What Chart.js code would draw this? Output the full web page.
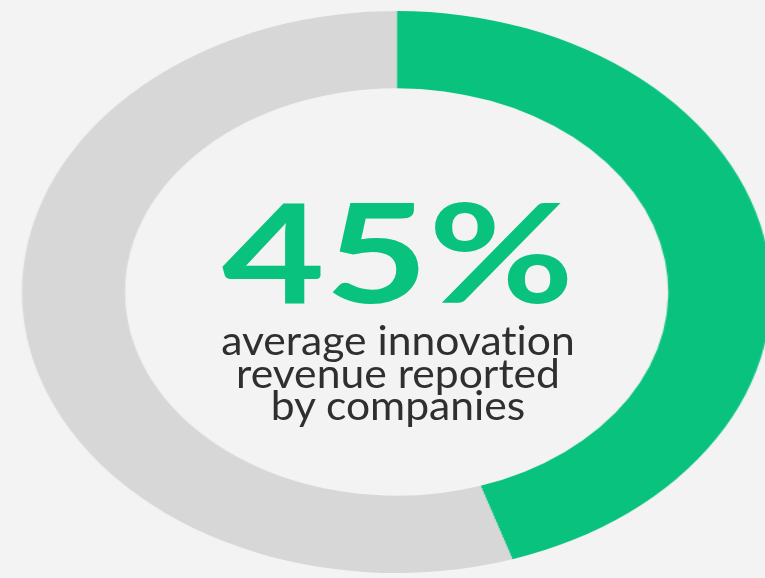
<!DOCTYPE html>
<html>
<head>
<meta charset="utf-8">
<script src="https://cdn.jsdelivr.net/npm/chart.js@4/dist/chart.umd.min.js"></script>
<style>
    html, body {
        margin: 0;
        padding: 0;
        width: 765px;
        height: 578px;
        overflow: hidden;
        background: #f3f3f3;
    }
    #wrap {
        position: relative;
        width: 765px;
        height: 578px;
        overflow: hidden;
    }
    #ringChart {
        position: absolute;
        left: 0;
        top: 0;
        width: 800px;
        height: 578px;
    }
    .center-text {
        position: absolute;
        left: 0;
        width: 796px;
        text-align: center;
        white-space: nowrap;
        font-variant-ligatures: none;
    }
    #bigValue {
        top: 181px;
        font-family: Lato, sans-serif;
        font-weight: 700;
        font-size: 138px;
        line-height: 138px;
        color: #08c27e;
        transform: scaleX(1.29);
    }
    #caption {
        top: 324px;
        font-family: Lato, sans-serif;
        font-size: 41px;
        line-height: 32.5px;
        color: #2f2f2f;
        transform: scaleX(1.04);
    }
</style>
</head>
<body>
<div id="wrap">
    <canvas id="ringChart" width="600" height="578"></canvas>
    <div id="bigValue" class="center-text"></div>
    <div id="caption" class="center-text"></div>
</div>
<script>
// Share of revenue that comes from innovation
const segmentLabels = ['Innovation revenue', 'Other revenue'];
const segmentValues = [45, 55];
const segmentColors = ['#08c27e', '#d8d7d8'];
const captionLines = ['average innovation', 'revenue reported', 'by companies'];

document.addEventListener('DOMContentLoaded', function () {
    const ringCtx = document.getElementById('ringChart').getContext('2d');

    new Chart(ringCtx, {
        type: 'doughnut',
        data: {
            labels: segmentLabels,
            datasets: [{
                data: segmentValues,
                backgroundColor: segmentColors,
                borderWidth: 0
            }]
        },
        options: {
            responsive: false,
            animation: false,
            cutout: '72.5%',
            layout: {
                padding: { top: 11, bottom: 5, left: 0, right: 5 }
            },
            plugins: {
                legend: { display: false },
                tooltip: { enabled: false }
            }
        }
    });

    // the ring is drawn round and then widened by the canvas css size
    const canvas = document.getElementById('ringChart');
    canvas.style.width = '800px';
    canvas.style.height = '578px';

    document.getElementById('bigValue').textContent = segmentValues[0] + '%';
    document.getElementById('caption').innerHTML = captionLines.join('<br>');
});
</script>
</body>
</html>
